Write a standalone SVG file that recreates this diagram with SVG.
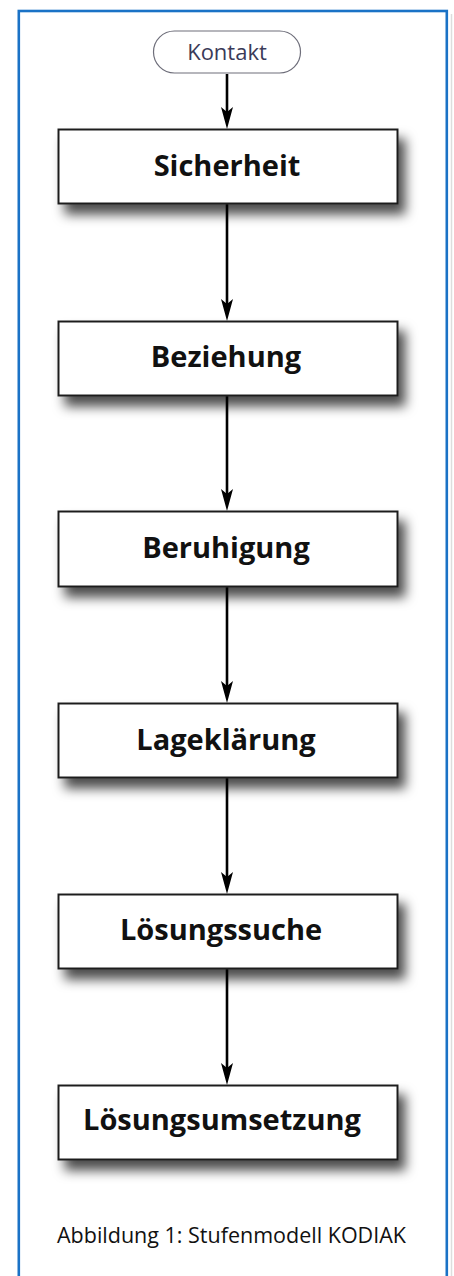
<svg xmlns="http://www.w3.org/2000/svg" width="454" height="1276" viewBox="0 0 454 1276">
  <defs>
    <style>
      .box { fill: #ffffff; stroke: #1e1e1e; stroke-width: 2; }
      .lbl { font-family: "Open Sans", "Noto Sans", sans-serif; font-weight: bold; font-size: 29px; fill: #111111; text-anchor: middle; }
      .conn { stroke: #000000; stroke-width: 2.6; fill: none; marker-end: url(#arrow); }
    </style>
    <marker id="arrow" viewBox="0 0 22 12" refX="10" refY="6" markerWidth="22" markerHeight="12" markerUnits="userSpaceOnUse" orient="auto">
      <path d="M0,0 L22,6 L0,12 L5,6 Z" fill="#000000"/>
    </marker>
    <filter id="shadow" x="-20%" y="-30%" width="150%" height="200%">
      <feDropShadow dx="7" dy="10" stdDeviation="6" flood-color="#000000" flood-opacity="0.7"/>
    </filter>
  </defs>
  <rect x="0" y="0" width="454" height="1276" fill="#ffffff"/>
  <line x1="451.5" y1="14" x2="451.5" y2="1276" stroke="#dddddd" stroke-width="1.5"/>
  <rect id="frame" x="18.8" y="11" width="428" height="1300" fill="none" stroke="#1a72c6" stroke-width="2.6"/>

  <g id="connectors">
    <line class="conn" x1="227" y1="74" x2="227" y2="117"/>
    <line class="conn" x1="227" y1="204" x2="227" y2="309"/>
    <line class="conn" x1="227" y1="396" x2="227" y2="499"/>
    <line class="conn" x1="227" y1="587" x2="227" y2="691"/>
    <line class="conn" x1="227" y1="778" x2="227" y2="882"/>
    <line class="conn" x1="227" y1="969" x2="227" y2="1073"/>
  </g>

  <g id="kontakt">
    <rect x="153.5" y="31" width="147" height="42" rx="21" ry="21" fill="#ffffff" stroke="#6e6e7a" stroke-width="1.2"/>
    <text x="227" y="60" font-family="'Open Sans', 'Noto Sans', sans-serif" font-size="22" fill="#3a3a58" text-anchor="middle">Kontakt</text>
  </g>

  <g id="sicherheit">
    <rect class="box" x="58.5" y="129.5" width="339" height="74" filter="url(#shadow)"/>
    <text class="lbl" x="227" y="176">Sicherheit</text>
  </g>
  <g id="beziehung">
    <rect class="box" x="58.5" y="321.5" width="339" height="74" filter="url(#shadow)"/>
    <text class="lbl" x="226" y="367">Beziehung</text>
  </g>
  <g id="beruhigung">
    <rect class="box" x="58.5" y="511.5" width="339" height="75" filter="url(#shadow)"/>
    <text class="lbl" x="226" y="558">Beruhigung</text>
  </g>
  <g id="lageklaerung">
    <rect class="box" x="58.5" y="703.5" width="339" height="74" filter="url(#shadow)"/>
    <text class="lbl" x="226" y="750">Lageklärung</text>
  </g>
  <g id="loesungssuche">
    <rect class="box" x="58.5" y="894.5" width="339" height="74" filter="url(#shadow)"/>
    <text class="lbl" x="221" y="940">Lösungssuche</text>
  </g>
  <g id="loesungsumsetzung">
    <rect class="box" x="58.5" y="1085.5" width="339" height="74" filter="url(#shadow)"/>
    <text class="lbl" x="222" y="1130" font-size="30">Lösungsumsetzung</text>
  </g>

  <text id="caption" x="231.5" y="1243" font-family="'Open Sans', 'Noto Sans', sans-serif" font-size="21.5" fill="#111111" text-anchor="middle">Abbildung 1: Stufenmodell KODIAK</text>
</svg>
